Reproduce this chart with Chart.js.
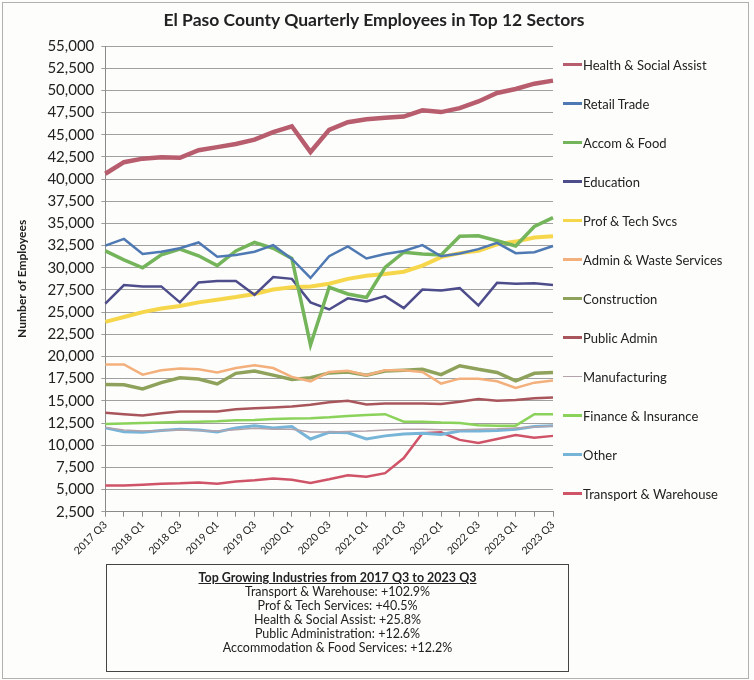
<!DOCTYPE html>
<html>
<head>
<meta charset="utf-8">
<script src="https://cdn.jsdelivr.net/npm/chart.js@4"></script>
<style>
  body { margin: 0; background: #fdfdfb; font-family: Lato, "Open Sans", sans-serif; }
  #wrap { position: relative; width: 754px; height: 680px; }
  #frame { position: absolute; left: 2px; top: 2px; width: 745px; height: 675px; border: 1px solid #b0b0b0; }
  #title { position: absolute; left: 124px; width: 500px; top: 9px; text-align: center;
           font-size: 17.5px; font-weight: bold; color: #222; }
  #legend { position: absolute; left: 563px; top: 45px; }
  .item { height: 39px; display: flex; align-items: center; font-size: 13px; color: #222; }
  .swatch { display: inline-block; width: 19px; margin-right: 1px; }
  #note { position: absolute; left: 106px; top: 564px; width: 461px; height: 106px; border: 1px solid #444;
          text-align: center; font-size: 12.5px; line-height: 14px; color: #222; }
  #note .head { font-weight: bold; text-decoration: underline; margin-top: 6px; }
</style>
</head>
<body>
<div id="wrap">
  <canvas id="statistics" width="754" height="680"></canvas>
  <div id="frame"></div>
  <div id="title">El Paso County Quarterly Employees in Top 12 Sectors</div>
  <div id="legend"></div>
  <div id="note">
    <div class="head">Top Growing Industries from 2017 Q3 to 2023 Q3</div>
    <div>Transport &amp; Warehouse: +102.9%</div>
    <div>Prof &amp; Tech Services: +40.5%</div>
    <div>Health &amp; Social Assist: +25.8%</div>
    <div>Public Administration: +12.6%</div>
    <div>Accommodation &amp; Food Services: +12.2%</div>
  </div>
</div>
<script>
var quarters = ["2017 Q3", "2017 Q4", "2018 Q1", "2018 Q2", "2018 Q3", "2018 Q4", "2019 Q1", "2019 Q2", "2019 Q3",
    "2019 Q4", "2020 Q1", "2020 Q2", "2020 Q3", "2020 Q4", "2021 Q1", "2021 Q2", "2021 Q3", "2021 Q4",
    "2022 Q1", "2022 Q2", "2022 Q3", "2022 Q4", "2023 Q1", "2023 Q2", "2023 Q3"];

var health = [40600, 41900, 42300, 42450, 42400, 43250, 43600, 43950, 44450, 45300, 45950, 43050, 45550,
    46400, 46750, 46900, 47050, 47750, 47550, 48000, 48750, 49700, 50150, 50750, 51100];
var retail = [32500, 33250, 31550, 31800, 32200, 32850, 31250, 31450, 31800, 32550, 31000, 28850, 31300,
    32400, 31050, 31550, 31900, 32550, 31300, 31600, 32100, 32800, 31650, 31750, 32450];
var accomFood = [31900, 30900, 30000, 31450, 32100, 31350, 30250, 31900, 32850, 32200, 31050, 21300, 27800,
    27050, 26650, 30050, 31750, 31550, 31450, 33550, 33600, 33050, 32450, 34650, 35650];
var education = [25950, 28050, 27900, 27900, 26100, 28350, 28500, 28500, 26950, 28950, 28750, 26100, 25300,
    26550, 26200, 26800, 25450, 27550, 27450, 27700, 25750, 28300, 28200, 28250, 28050];
var profTech = [23900, 24450, 25000, 25400, 25700, 26100, 26400, 26700, 27050, 27550, 27800, 27900, 28200,
    28750, 29100, 29300, 29550, 30250, 31200, 31650, 31900, 32650, 32950, 33400, 33550];
var adminWaste = [19100, 19100, 17950, 18450, 18650, 18550, 18200, 18700, 19000, 18700, 17700, 17200, 18250,
    18400, 17900, 18450, 18450, 18250, 16950, 17500, 17500, 17200, 16450, 17050, 17300];
var construction = [16850, 16800, 16350, 17050, 17600, 17450, 16900, 18100, 18350, 17900, 17400, 17600, 18150,
    18250, 17900, 18350, 18450, 18550, 17950, 18950, 18550, 18200, 17250, 18100, 18200];
var publicAdmin = [13650, 13500, 13350, 13600, 13800, 13800, 13800, 14050, 14150, 14250, 14350, 14550, 14850,
    15000, 14600, 14700, 14700, 14700, 14650, 14900, 15200, 15000, 15100, 15300, 15370];
var manufacturing = [12000, 11700, 11600, 11650, 11700, 11650, 11600, 11750, 11900, 11800, 11800, 11500, 11500,
    11550, 11600, 11700, 11800, 11800, 11750, 11750, 11800, 11850, 11950, 12050, 12150];
var finance = [12400, 12450, 12500, 12550, 12600, 12650, 12700, 12800, 12850, 12950, 13000, 13050, 13150,
    13300, 13400, 13500, 12650, 12650, 12550, 12500, 12250, 12200, 12200, 13500, 13500];
var other = [11950, 11500, 11450, 11650, 11800, 11700, 11500, 11950, 12200, 11950, 12100, 10700, 11450,
    11400, 10700, 11050, 11250, 11350, 11200, 11600, 11600, 11650, 11800, 12100, 12200];
var transport = [5450, 5450, 5550, 5650, 5700, 5800, 5650, 5900, 6050, 6250, 6100, 5750, 6150,
    6600, 6450, 6850, 8550, 11350, 11450, 10600, 10250, 10700, 11150, 10850, 11050];

function series(label, data, color, width) {
    return { label: label, data: data, borderColor: color, backgroundColor: color,
             borderWidth: width, pointRadius: 0, tension: 0, fill: false };
}

var canvasElement = document.getElementById("statistics");

var config =
{
    type : "line",
    data :
    {
        labels: quarters,
        datasets: [
            series("Health & Social Assist", health, "#b75d6e", 4.5),
            series("Retail Trade", retail, "#4f79b3", 2.5),
            series("Accom & Food", accomFood, "#74b45a", 3.5),
            series("Education", education, "#4e4d8c", 2.5),
            series("Prof & Tech Svcs", profTech, "#f6d74c", 4),
            series("Admin & Waste Services", adminWaste, "#f3b07c", 2.5),
            series("Construction", construction, "#8fa25b", 3.5),
            series("Public Admin", publicAdmin, "#a8565b", 2.5),
            series("Manufacturing", manufacturing, "#b3a3ab", 1.5),
            series("Finance & Insurance", finance, "#8ad25a", 2.5),
            series("Other", other, "#76b4d8", 3),
            series("Transport & Warehouse", transport, "#cf5468", 2.5),
        ],
    },
    options :
    {
        responsive: false,
        animation: false,
        layout: { padding: { left: 10, right: 201, top: 46, bottom: 121 } },
        plugins: {
            legend: { display: false },
            tooltip: { enabled: false }
        },
        scales: {
            x: {
                offset: false,
                grid: { drawOnChartArea: false, drawTicks: true, tickLength: 5, color: "#8a8a8a" },
                border: { color: "#8a8a8a" },
                ticks: {
                    autoSkip: false, maxRotation: 45, minRotation: 45, padding: 2,
                    color: "#222", font: { family: "Lato", size: 10.5 },
                    callback: function (value, index) { return index % 2 === 0 ? this.getLabelForValue(value) : ""; }
                }
            },
            y: {
                min: 2500,
                max: 55000,
                grid: { color: "#a0a0a0", tickLength: 4 },
                border: { color: "#8a8a8a" },
                ticks: {
                    stepSize: 2500, padding: 7, color: "#222",
                    font: { family: "Lato", size: 15 },
                    callback: function (value) { return value.toLocaleString("en-US"); }
                },
                title: {
                    display: true, text: "Number of Employees", color: "#222",
                    font: { family: "Lato", size: 12, weight: "bold" },
                    padding: { top: 5, bottom: 11 }
                }
            }
        }
    }
};

var chart = new Chart(canvasElement, config);

// legend built from the chart's own datasets
var legendBox = document.getElementById("legend");
chart.data.datasets.forEach(function (ds) {
    var row = document.createElement("div");
    row.className = "item";
    var sw = document.createElement("span");
    sw.className = "swatch";
    sw.style.height = Math.min(ds.borderWidth, 3) + "px";
    sw.style.background = ds.borderColor;
    row.appendChild(sw);
    row.appendChild(document.createTextNode(ds.label));
    legendBox.appendChild(row);
});
</script>
</body>
</html>
